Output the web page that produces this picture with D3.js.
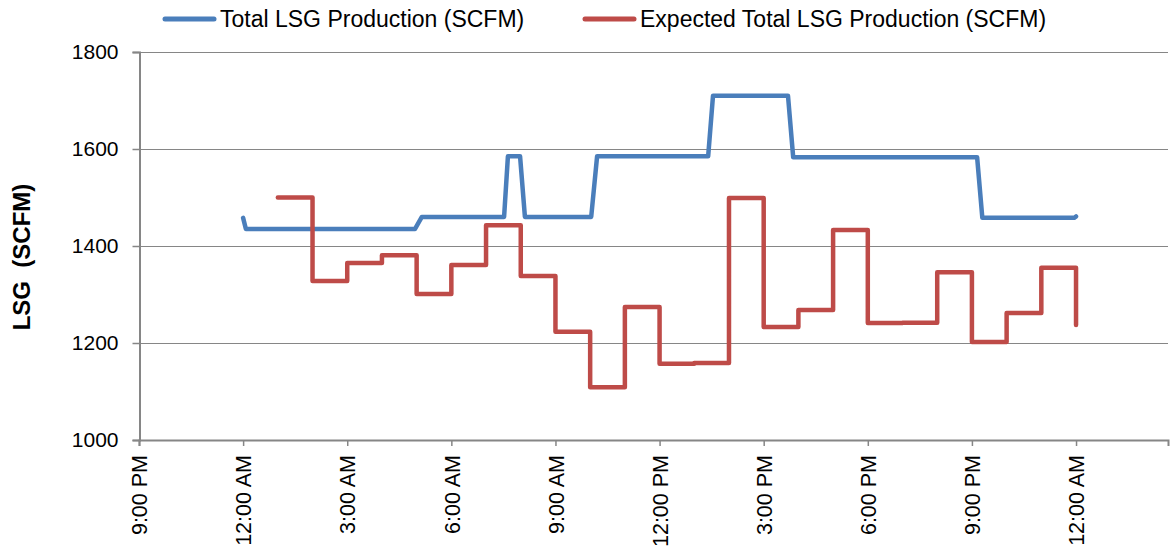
<!DOCTYPE html>
<html>
<head>
<meta charset="utf-8">
<script src="https://cdn.jsdelivr.net/npm/d3@7/dist/d3.min.js"></script>
<style>
  html, body { margin: 0; padding: 0; background: #fff; }
  svg { display: block; font-family: "Liberation Sans", Arial, sans-serif; }
</style>
</head>
<body>
<svg id="chart" width="1170" height="552"></svg>
<script>
// Time is in hours after 9:00 PM on the first day.
const tickHours = [0, 3, 6, 9, 12, 15, 18, 21, 24, 27];
const tickLabels = ["9:00 PM", "12:00 AM", "3:00 AM", "6:00 AM", "9:00 AM",
                    "12:00 PM", "3:00 PM", "6:00 PM", "9:00 PM", "12:00 AM"];
const yTicks = [1000, 1200, 1400, 1600, 1800];

// Measured total LSG production (SCFM)
const actualHours = [3.0, 3.08, 7.95, 8.15, 10.52, 10.63, 10.98, 11.12, 13.03, 13.2,
                     16.4, 16.54, 18.7, 18.85, 24.15, 24.3, 26.95, 27.0];
const actualValues = [1458, 1435, 1435, 1460, 1460, 1585, 1585, 1460, 1460, 1585,
                      1585, 1710, 1710, 1583, 1583, 1458, 1458, 1461];

// Hourly expected total LSG production (SCFM)
const expectedHours = [4, 5, 6, 7, 8, 9, 10, 11, 12, 13, 14, 15, 16, 17, 18, 19,
                       20, 21, 22, 23, 24, 25, 26, 27];
const expectedValues = [1500, 1328, 1365, 1381, 1301, 1361, 1443, 1338, 1223, 1109,
                        1274, 1157, 1159, 1499, 1233, 1268, 1433, 1241, 1242, 1346,
                        1202, 1262, 1355, 1237];

const seriesNames = ["Total LSG Production (SCFM)", "Expected Total LSG Production (SCFM)"];
const colors = ["#4A7EBB", "#BE4B48"];

const svg = d3.select("#chart");
const plotLeft = 139, plotRight = 1168, plotTop = 52, plotBottom = 440;

const x = d3.scaleLinear().domain([0, 29.65]).range([plotLeft, plotRight]);
const y = d3.scaleLinear().domain([1000, 1800]).range([plotBottom, plotTop]);
const grey = "#868686";

// horizontal gridlines
svg.append("g")
  .selectAll("line")
  .data(yTicks.filter(d => d > 1000))
  .join("line")
  .attr("x1", plotLeft).attr("x2", plotRight)
  .attr("y1", d => Math.round(y(d)) + 0.5).attr("y2", d => Math.round(y(d)) + 0.5)
  .attr("stroke", grey).attr("stroke-width", 1);

// y axis
const yAxis = svg.append("g")
  .attr("transform", `translate(${plotLeft + 0.5},0)`)
  .call(d3.axisLeft(y).tickValues(yTicks).tickSize(7).tickPadding(14).tickFormat(d3.format("d")));
yAxis.select(".domain").attr("stroke", grey).attr("stroke-width", 2);
yAxis.selectAll(".tick line").attr("stroke", grey).attr("stroke-width", 1.5);
yAxis.selectAll(".tick text")
  .attr("font-size", 21).attr("fill", "#000")
  .attr("font-family", "Liberation Sans, Arial, sans-serif");

// x axis
const xAxis = svg.append("g")
  .attr("transform", `translate(0,${plotBottom})`)
  .call(d3.axisBottom(x).tickValues(tickHours).tickSize(6)
        .tickFormat((d, i) => tickLabels[i]));
xAxis.select(".domain").attr("stroke", grey).attr("stroke-width", 2);
xAxis.selectAll(".tick line").attr("stroke", grey).attr("stroke-width", 1.5);
xAxis.selectAll(".tick text")
  .attr("font-size", 21.5).attr("fill", "#000")
  .attr("font-family", "Liberation Sans, Arial, sans-serif")
  .attr("transform", "rotate(-90)")
  .attr("text-anchor", "end")
  .attr("x", -15).attr("y", 0).attr("dy", "0.36em");

// y axis title
svg.append("text")
  .attr("transform", "translate(30,257) rotate(-90)")
  .attr("text-anchor", "middle")
  .attr("font-size", 24).attr("font-weight", "bold")
  .attr("xml:space", "preserve")
  .style("white-space", "pre")
  .text("LSG  (SCFM)");

// series
const actualLine = d3.line()
  .x((d, i) => x(actualHours[i]))
  .y(d => y(d));
const expectedLine = d3.line()
  .x((d, i) => x(expectedHours[i]))
  .y(d => y(d))
  .curve(d3.curveStepAfter);

svg.append("path")
  .attr("d", actualLine(actualValues))
  .attr("fill", "none").attr("stroke", colors[0]).attr("stroke-width", 4.5)
  .attr("stroke-linejoin", "round").attr("stroke-linecap", "round");

svg.append("path")
  .attr("d", expectedLine(expectedValues))
  .attr("fill", "none").attr("stroke", colors[1]).attr("stroke-width", 4.5)
  .attr("stroke-linejoin", "round").attr("stroke-linecap", "round");

// legend
const legendX = [165, 585];
const legend = svg.append("g");
seriesNames.forEach((name, i) => {
  legend.append("line")
    .attr("x1", legendX[i]).attr("x2", legendX[i] + 49)
    .attr("y1", 19).attr("y2", 19)
    .attr("stroke", colors[i]).attr("stroke-width", 5).attr("stroke-linecap", "round");
  legend.append("text")
    .attr("x", legendX[i] + 55).attr("y", 19).attr("dy", "0.36em")
    .attr("font-size", 23).attr("fill", "#000")
    .text(name);
});
</script>
</body>
</html>
